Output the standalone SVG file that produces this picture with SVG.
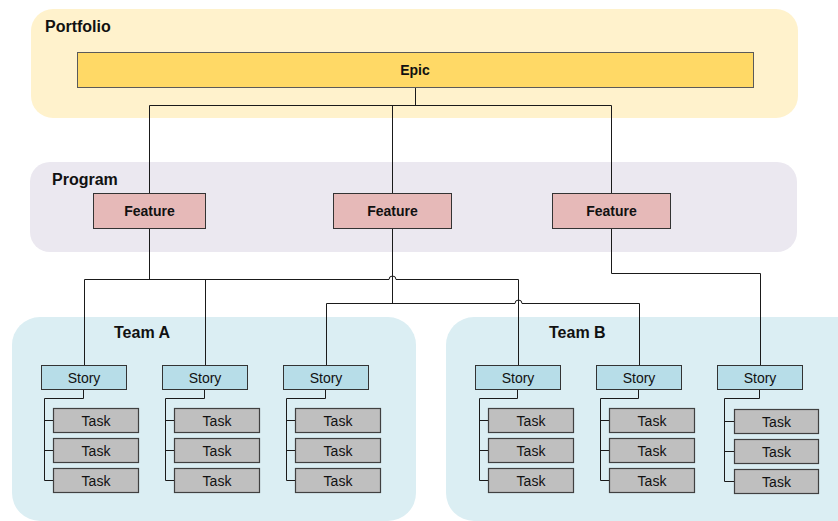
<svg xmlns="http://www.w3.org/2000/svg" width="838" height="521" viewBox="0 0 838 521">
  <style>
    .band-label { font-family: "Liberation Sans", Arial, sans-serif; font-weight: bold; font-size: 16px; fill: #111; }
    .bold { font-family: "Liberation Sans", Arial, sans-serif; font-weight: bold; font-size: 14px; fill: #111; text-anchor: middle; }
    .reg { font-family: "Liberation Sans", Arial, sans-serif; font-size: 14px; fill: #111; text-anchor: middle; }
    .epic { fill: #FFD966; stroke: #5a5a5a; stroke-width: 1; }
    .feature { fill: #E6B9B8; stroke: #333; stroke-width: 1; }
    .story { fill: #B7DDE8; stroke: #333; stroke-width: 1; }
    .task { fill: #BFBFBF; stroke: #404040; stroke-width: 1.2; }
    .wire { fill: none; stroke: #1a1a1a; stroke-width: 1; }
  </style>

  <!-- swimlane bands -->
  <g id="portfolio">
    <rect x="31" y="9" width="767" height="109" rx="22" fill="#FFF2CC"/>
    <text class="band-label" x="45" y="32">Portfolio</text>
  </g>
  <g id="program">
    <rect x="30" y="162" width="767" height="90" rx="20" fill="#EBE8F0"/>
    <text class="band-label" x="52" y="185">Program</text>
  </g>
  <g id="team-a">
    <rect x="12" y="317" width="404" height="204" rx="28" fill="#DBEEF3"/>
    <text class="band-label" x="114" y="338">Team A</text>
  </g>
  <g id="team-b">
    <rect x="446" y="317" width="420" height="204" rx="28" fill="#DBEEF3"/>
    <text class="band-label" x="549" y="338">Team B</text>
  </g>

  <!-- connectors -->
  <g id="connectors">
    <!-- epic to features -->
    <path class="wire" d="M415.5,87 V105.5 M149.5,105.5 H611.5 M149.5,105.5 V193 M392.5,105.5 V193 M611.5,105.5 V193"/>
    <!-- feature 1 to stories, hopping over feature 2 trunk -->
    <path class="wire" d="M149.5,228 V279.5 M84.5,279.5 H389 A3.5,3.5 0 0 1 396,279.5 H518.5 V365 M84.5,279.5 V365 M205.5,279.5 V365"/>
    <!-- feature 2 to stories, hopping over feature 1 branch -->
    <path class="wire" d="M392.5,228 V303.5 M326.5,303.5 H515 A3.5,3.5 0 0 1 522,303.5 H639.5 V365 M326.5,303.5 V365"/>
    <!-- feature 3 to story -->
    <path class="wire" d="M611.5,228 V273.5 H760.5 V365"/>
    <!-- story to task trees -->
    <path class="wire" d="M83.5,389 V398.5 H44.5 V480.5 H53 M44.5,420.5 H53 M44.5,450.5 H53"/>
    <path class="wire" d="M204.5,389 V398.5 H165.5 V480.5 H174 M165.5,420.5 H174 M165.5,450.5 H174"/>
    <path class="wire" d="M325.5,389 V398.5 H286.5 V480.5 H295 M286.5,420.5 H295 M286.5,450.5 H295"/>
    <path class="wire" d="M517.5,389 V398.5 H479.5 V480.5 H488 M479.5,420.5 H488 M479.5,450.5 H488"/>
    <path class="wire" d="M638.5,389 V398.5 H600.5 V480.5 H609 M600.5,420.5 H609 M600.5,450.5 H609"/>
    <path class="wire" d="M759.5,389 V398.5 H724.5 V481.5 H734 M724.5,421.5 H734 M724.5,451.5 H734"/>
  </g>

  <!-- epic -->
  <g id="epic">
    <rect class="epic" x="77.5" y="52.5" width="676" height="35"/>
    <text class="bold" x="415" y="75">Epic</text>
  </g>

  <!-- features -->
  <g id="feature-1">
    <rect class="feature" x="93.5" y="193.5" width="112" height="35"/>
    <text class="bold" x="149.5" y="216">Feature</text>
  </g>
  <g id="feature-2">
    <rect class="feature" x="333.5" y="193.5" width="118" height="35"/>
    <text class="bold" x="392.5" y="216">Feature</text>
  </g>
  <g id="feature-3">
    <rect class="feature" x="552.5" y="193.5" width="118" height="35"/>
    <text class="bold" x="611.5" y="216">Feature</text>
  </g>

  <!-- team A stories and tasks -->
  <g id="story-a1">
    <rect class="story" x="41.5" y="365.5" width="85" height="24"/>
    <text class="reg" x="84" y="383">Story</text>
  </g>
  <g id="tasks-a1">
    <rect class="task" x="53.5" y="408.5" width="85" height="24"/><text class="reg" x="96" y="425.5">Task</text>
    <rect class="task" x="53.5" y="438.5" width="85" height="24"/><text class="reg" x="96" y="455.5">Task</text>
    <rect class="task" x="53.5" y="468.5" width="85" height="24"/><text class="reg" x="96" y="485.5">Task</text>
  </g>
  <g id="story-a2">
    <rect class="story" x="162.5" y="365.5" width="85" height="24"/>
    <text class="reg" x="205" y="383">Story</text>
  </g>
  <g id="tasks-a2">
    <rect class="task" x="174.5" y="408.5" width="85" height="24"/><text class="reg" x="217" y="425.5">Task</text>
    <rect class="task" x="174.5" y="438.5" width="85" height="24"/><text class="reg" x="217" y="455.5">Task</text>
    <rect class="task" x="174.5" y="468.5" width="85" height="24"/><text class="reg" x="217" y="485.5">Task</text>
  </g>
  <g id="story-a3">
    <rect class="story" x="283.5" y="365.5" width="85" height="24"/>
    <text class="reg" x="326" y="383">Story</text>
  </g>
  <g id="tasks-a3">
    <rect class="task" x="295.5" y="408.5" width="85" height="24"/><text class="reg" x="338" y="425.5">Task</text>
    <rect class="task" x="295.5" y="438.5" width="85" height="24"/><text class="reg" x="338" y="455.5">Task</text>
    <rect class="task" x="295.5" y="468.5" width="85" height="24"/><text class="reg" x="338" y="485.5">Task</text>
  </g>

  <!-- team B stories and tasks -->
  <g id="story-b1">
    <rect class="story" x="475.5" y="365.5" width="85" height="24"/>
    <text class="reg" x="518" y="383">Story</text>
  </g>
  <g id="tasks-b1">
    <rect class="task" x="488.5" y="408.5" width="85" height="24"/><text class="reg" x="531" y="425.5">Task</text>
    <rect class="task" x="488.5" y="438.5" width="85" height="24"/><text class="reg" x="531" y="455.5">Task</text>
    <rect class="task" x="488.5" y="468.5" width="85" height="24"/><text class="reg" x="531" y="485.5">Task</text>
  </g>
  <g id="story-b2">
    <rect class="story" x="596.5" y="365.5" width="85" height="24"/>
    <text class="reg" x="639" y="383">Story</text>
  </g>
  <g id="tasks-b2">
    <rect class="task" x="609.5" y="408.5" width="85" height="24"/><text class="reg" x="652" y="425.5">Task</text>
    <rect class="task" x="609.5" y="438.5" width="85" height="24"/><text class="reg" x="652" y="455.5">Task</text>
    <rect class="task" x="609.5" y="468.5" width="85" height="24"/><text class="reg" x="652" y="485.5">Task</text>
  </g>
  <g id="story-b3">
    <rect class="story" x="717.5" y="365.5" width="85" height="24"/>
    <text class="reg" x="760" y="383">Story</text>
  </g>
  <g id="tasks-b3">
    <rect class="task" x="734.5" y="409.5" width="84" height="24"/><text class="reg" x="776.5" y="426.5">Task</text>
    <rect class="task" x="734.5" y="439.5" width="84" height="24"/><text class="reg" x="776.5" y="456.5">Task</text>
    <rect class="task" x="734.5" y="469.5" width="84" height="24"/><text class="reg" x="776.5" y="486.5">Task</text>
  </g>
</svg>
